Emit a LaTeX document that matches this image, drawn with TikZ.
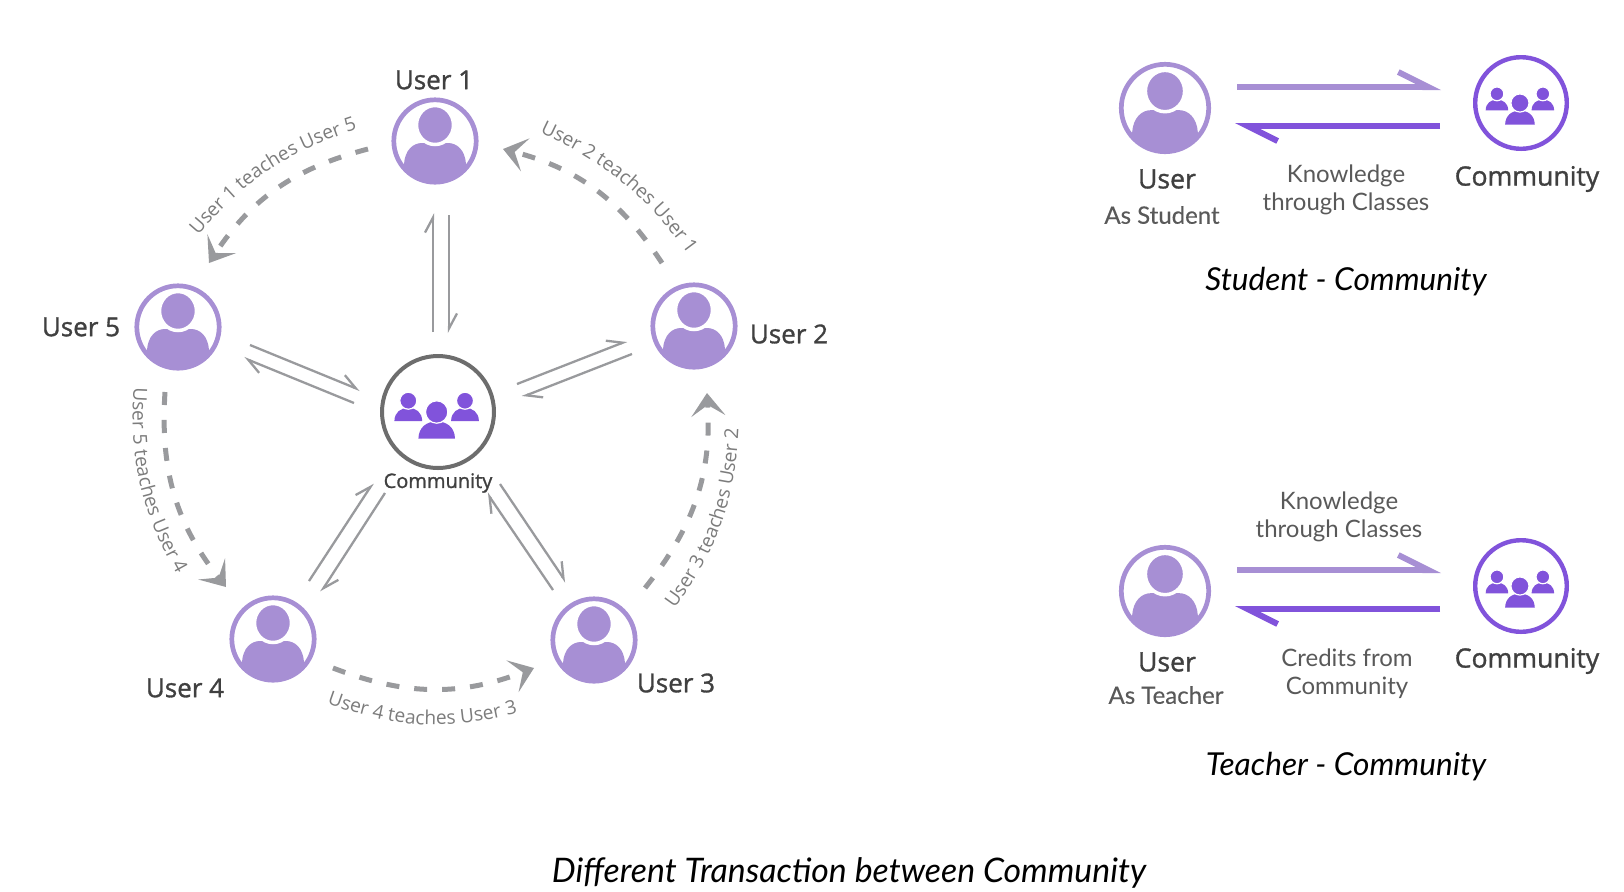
\documentclass[tikz,border=0pt]{standalone}
\usepackage{fontspec}
\setmainfont{Lato}
\newfontfamily\labelfont[FakeBold=1.2]{Open Sans}
\newfontfamily\teachfont{Open Sans}
\newfontfamily\notefont[FakeBold=0.3]{Lato}
\usetikzlibrary{arrows.meta, decorations.text}

\definecolor{userpurple}{HTML}{A78FD4}
\definecolor{commpurple}{HTML}{8153DB}
\definecolor{linegray}{HTML}{999A9D}
\definecolor{ringgray}{HTML}{6D6D6D}
\definecolor{labelgray}{HTML}{404040}
\definecolor{notegray}{HTML}{595959}
\definecolor{teachgray}{HTML}{7C7C7C}

\newcommand{\teachsize}{\teachfont\fontsize{9.6pt}{11pt}\selectfont}

\tikzset{
    usernode/.style={circle, inner sep=0pt, minimum size=41.2pt, line width=2.35pt, draw=userpurple, fill=white},
    sideuser/.style={usernode, minimum size=43.7pt},
    commnode/.style={circle, inner sep=0pt, minimum size=56pt, line width=2pt, draw=ringgray, fill=white},
    sidecomm/.style={circle, inner sep=0pt, minimum size=45.8pt, line width=2.2pt, draw=commpurple, fill=white},
    userlabel/.style={font=\labelfont\fontsize{13.3pt}{15pt}\selectfont, text=labelgray, inner sep=0pt},
    ringlabel/.style={userlabel, font=\labelfont\fontsize{13pt}{15pt}\selectfont},
    sublabel/.style={font=\notefont\fontsize{12pt}{14pt}\selectfont, text=notegray, inner sep=0pt},
    notelabel/.style={font=\fontsize{12pt}{14pt}\selectfont, text=notegray, inner sep=0pt},
    headline/.style={font=\itshape\fontsize{15.8pt}{18pt}\selectfont, text=black, inner sep=0pt},
    teachtext/.style={decorate, decoration={text along path, text align=center, text color=teachgray, text={|\teachsize|#1}}},
    thinarrow/.style={line width=1.15pt, draw=linegray, -{Straight Barb[harpoon, length=7.5pt, width=8pt]}},
    teacharrow/.style={line width=2.5pt, draw=linegray, dash pattern=on 6.5pt off 7.5pt, bend right=21,
        -{Stealth[length=11.5pt, width=17pt, inset=5.5pt]}},
    lightarrow/.style={line width=3pt, draw=userpurple, -{Straight Barb[harpoon, length=15pt, width=15pt]}},
    darkarrow/.style={line width=3pt, draw=commpurple, -{Straight Barb[harpoon, length=15pt, width=15pt]}},
    usericon/.pic={
        \begin{scope}
            \clip (0,0) circle (42);
            \fill[userpurple] (-31,50) -- (-31,23) .. controls (-30,9) and (-22,2) .. (-13,2)
                -- (13,2) .. controls (22,2) and (30,9) .. (31,23) -- (31,50) -- cycle;
        \end{scope}
        \filldraw[fill=userpurple, draw=white, line width=1.75pt] (0,-16) ellipse [x radius=18.5, y radius=19.5];
    },
    groupicon/.pic={
        \foreach \px/\py/\ps in {-29.7/-11.3/.76, 27/-11.3/.76, -1.3/0/1} {
            \begin{scope}[shift={(\px,\py)}, scale=\ps]
                \fill[commpurple] (-18.3,26.7) .. controls (-18,15) and (-10,9.5) .. (0,9.5)
                    .. controls (10,9.5) and (18,15) .. (18.3,26.7) -- cycle;
                \filldraw[fill=commpurple, draw=white, line width=.6pt] (0,0) circle (11.2);
            \end{scope}
        }
    }
}

\begin{document}
\begin{tikzpicture}[x=0.5pt, y=-0.5pt]
    \useasboundingbox (0,0) rectangle (1624,891);

    % circle of users
    \node[usernode] (u1) at (435,141) {};
    \node[usernode] (u2) at (694,326) {};
    \node[usernode] (u3) at (594,640) {};
    \node[usernode] (u4) at (273,639) {};
    \node[usernode] (u5) at (178,327) {};
    \node[commnode] (comm) at (438,412) {};
    \foreach \who in {u1,u2,u3,u4,u5} {
        \pic at (\who) {usericon};
    }
    \pic at (comm) {groupicon};

    \node[ringlabel] (name1) at (434,80) {User 1};
    \node[ringlabel] (name2) at (789,334) {User 2};
    \node[ringlabel] (name3) at (676,683) {User 3};
    \node[ringlabel] (name4) at (185,688) {User 4};
    \node[ringlabel] (name5) at (81,327) {User 5};
    \node[userlabel, font=\labelfont\fontsize{10pt}{11pt}\selectfont] (commname) at (438,483) {Community};

    % to and from the community
    \draw[thinarrow] ([shift={(-5,-80)}]comm.center) -- ([shift={(-2,72)}]u1.center);
    \draw[thinarrow] ([shift={(14,74)}]u1.center) -- ([shift={(11,-79)}]comm.center);
    \draw[thinarrow] ([shift={(79,-28)}]comm.center) -- ([shift={(-67,15)}]u2.center);
    \draw[thinarrow] ([shift={(-62,28)}]u2.center) -- ([shift={(84,-15)}]comm.center);
    \draw[thinarrow] ([shift={(72,18)}]u5.center) -- ([shift={(-78,-22)}]comm.center);
    \draw[thinarrow] ([shift={(-84,-9)}]comm.center) -- ([shift={(66,31)}]u5.center);
    \draw[thinarrow] ([shift={(36,-58)}]u4.center) -- ([shift={(-65,71)}]comm.center);
    \draw[thinarrow] ([shift={(-53,81)}]comm.center) -- ([shift={(48,-47)}]u4.center);
    \draw[thinarrow] ([shift={(-41,-50)}]u3.center) -- ([shift={(49,81)}]comm.center);
    \draw[thinarrow] ([shift={(62,72)}]comm.center) -- ([shift={(-28,-58)}]u3.center);

    % users teaching each other
    \draw[teacharrow] ([shift={(-67,8)}]u1.center) to ([shift={(31,-64)}]u5.center);
    \draw[teacharrow] ([shift={(-32,-63)}]u2.center) to ([shift={(68,8)}]u1.center);
    \draw[teacharrow] ([shift={(51,-52)}]u3.center) to ([shift={(13,67)}]u2.center);
    \draw[teacharrow] ([shift={(60,29)}]u4.center) to ([shift={(-60,28)}]u3.center);
    \draw[teacharrow] ([shift={(-13,65)}]u5.center) to ([shift={(-47,-52)}]u4.center);

    \path[teachtext={User 1 teaches User 5}] ([shift={(13,-83)}]u5.center) to[bend left=17] ([shift={(-67,-15)}]u1.center);
    \path[teachtext={User 2 teaches User 1}] ([shift={(99,-11)}]u1.center) to[bend left=15] ([shift={(-2,-66)}]u2.center);
    \path[teachtext={User 3 teaches User 2}] ([shift={(73,-21)}]u3.center) to[bend right=18] ([shift={(45,90)}]u2.center);
    \path[teachtext={User 4 teaches User 3}] ([shift={(45,61)}]u4.center) to[bend right=18] ([shift={(-67,71)}]u3.center);
    \path[teachtext={User 5 teaches User 4}] ([shift={(-44,54)}]u5.center) to[bend right=17] ([shift={(-93,-59)}]u4.center);

    % student side
    \node[sideuser] (stu) at (1165,108) {};
    \node[sidecomm] (stucomm) at (1521,103) {};
    \pic[scale=1.06] at (stu) {usericon};
    \pic[scale=.81] at (stucomm) {groupicon};
    \draw[lightarrow] ([shift={(72,-21)}]stu.center) -- ([shift={(-80,-16)}]stucomm.center);
    \draw[darkarrow] ([shift={(-81,23)}]stucomm.center) -- ([shift={(70,18)}]stu.center);
    \node[userlabel] (stuname) at (1167,179) {User};
    \node[sublabel] (stusub) at (1162,215) {As Student};
    \node[notelabel] (stunote) at (1346,191) {\begin{tabular}{@{}c@{}}Knowledge\\through Classes\end{tabular}};
    \node[userlabel] (stucommname) at (1527,179) {Community};
    \node[headline] (stuhead) at (1346,282) {Student - Community};

    % teacher side
    \node[sideuser] (tea) at (1165,591) {};
    \node[sidecomm] (teacomm) at (1521,586) {};
    \pic[scale=1.06] at (tea) {usericon};
    \pic[scale=.81] at (teacomm) {groupicon};
    \draw[lightarrow] ([shift={(72,-21)}]tea.center) -- ([shift={(-80,-16)}]teacomm.center);
    \draw[darkarrow] ([shift={(-81,23)}]teacomm.center) -- ([shift={(70,18)}]tea.center);
    \node[userlabel] (teaname) at (1167,662) {User};
    \node[sublabel] (teasub) at (1166,695) {As Teacher};
    \node[notelabel] (teanote) at (1339,518) {\begin{tabular}{@{}c@{}}Knowledge\\through Classes\end{tabular}};
    \node[notelabel] (creditnote) at (1347,675) {\begin{tabular}{@{}c@{}}Credits from\\Community\end{tabular}};
    \node[userlabel] (teacommname) at (1527,661) {Community};
    \node[headline] (teahead) at (1346,767) {Teacher - Community};

    \node[headline, font=\itshape\fontsize{16.9pt}{19pt}\selectfont] (title) at (849,873) {Different Transaction between Community};
\end{tikzpicture}
\end{document}
